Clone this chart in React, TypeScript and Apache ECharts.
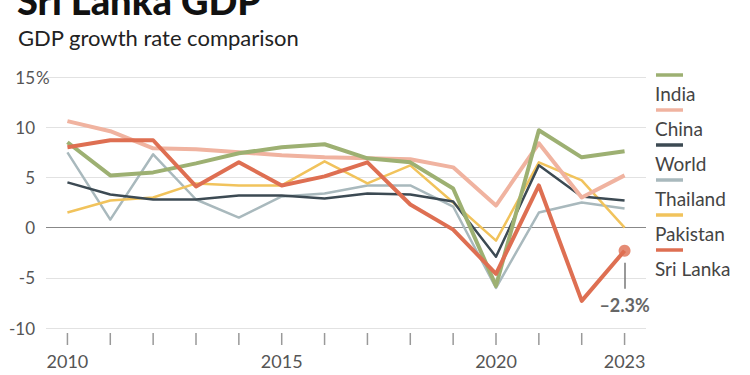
import React, { useEffect, useRef } from "react";
import * as echarts from "echarts";

const years = ["2010","2011","2012","2013","2014","2015","2016","2017","2018","2019","2020","2021","2022","2023"];
const india = [8.5, 5.2, 5.5, 6.4, 7.4, 8.0, 8.3, 6.9, 6.5, 3.9, -5.8, 9.7, 7.0, 7.6];
const china = [10.6, 9.6, 7.9, 7.8, 7.5, 7.2, 7.0, 6.9, 6.8, 6.0, 2.2, 8.4, 3.0, 5.2];
const world = [4.5, 3.3, 2.8, 2.8, 3.2, 3.2, 2.9, 3.4, 3.3, 2.6, -2.9, 6.2, 3.1, 2.7];
const thailand = [7.5, 0.8, 7.3, 2.8, 1.0, 3.1, 3.4, 4.2, 4.2, 2.1, -6.0, 1.5, 2.5, 1.9];
const pakistan = [1.5, 2.7, 3.0, 4.4, 4.2, 4.2, 6.6, 4.4, 6.2, 2.5, -1.3, 6.5, 4.7, 0.0];
const sriLanka = [8.0, 8.7, 8.7, 4.1, 6.5, 4.2, 5.1, 6.5, 2.3, -0.2, -4.6, 4.2, -7.3, -2.3];

const legendNames = ["India", "China", "World", "Thailand", "Pakistan", "Sri Lanka"];
const xLabelYears = ["2010", "2015", "2020", "2023"];
const yTicks = [-10, -5, 0, 5, 10, 15];

const FONT = "Lato, 'Source Sans Pro', 'Noto Sans', sans-serif";

const seriesDefs = [
  { name: "Thailand", data: thailand, color: "#a9b9bd", width: 2.5 },
  { name: "Pakistan", data: pakistan, color: "#f1c35c", width: 2.5 },
  { name: "World", data: world, color: "#3c4a53", width: 2.5 },
  { name: "China", data: china, color: "#f0b3a0", width: 4 },
  { name: "India", data: india, color: "#9db072", width: 4 },
  { name: "Sri Lanka", data: sriLanka, color: "#de6f52", width: 4 },
];

export default function App() {
  const ref = useRef<HTMLDivElement>(null);
  useEffect(() => {
    if (!ref.current) return;
    const chart = echarts.init(ref.current, null, { renderer: "svg" });
    const colorOf = (n: string) => seriesDefs.find((s) => s.name === n)!.color;
    const last = sriLanka[sriLanka.length - 1];
    const lastYear = years[years.length - 1];
    const annText = `${last < 0 ? "\u2013" : ""}${Math.abs(last).toFixed(1)}%`;
    const yMin = yTicks[0];

    const legendGraphics: any[] = [];
    legendNames.forEach((n, i) => {
      legendGraphics.push({
        type: "line",
        shape: { x1: 656, y1: 75 + 35 * i, x2: 683, y2: 75 + 35 * i },
        style: { stroke: colorOf(n), lineWidth: 3.5 },
      });
      legendGraphics.push({
        type: "text",
        x: 655,
        y: 93 + 35 * i,
        style: { text: n, font: `19px ${FONT}`, fill: "#444", verticalAlign: "middle", textAlign: "left" },
      });
    });

    const baseGraphics: any[] = [
      {
        type: "text",
        x: 17,
        y: 0,
        style: { text: "Sri Lanka GDP", font: `900 38px ${FONT}`, fill: "#111", verticalAlign: "middle" },
      },
      {
        type: "text",
        x: 18,
        y: 37,
        style: { text: "GDP growth rate comparison", font: `22px ${FONT}`, fill: "#222", verticalAlign: "middle" },
      },
      {
        type: "text",
        x: 36,
        y: 77,
        style: { text: "%", font: `17px ${FONT}`, fill: "#555", verticalAlign: "middle" },
      },
      ...legendGraphics,
    ];

    chart.setOption({
      animation: false,
      backgroundColor: "#fff",
      grid: { left: 46, right: 104, top: 77, bottom: 47, containLabel: false },
      xAxis: {
        type: "category",
        data: years,
        boundaryGap: true,
        position: "bottom",
        axisLine: { show: false, onZero: false },
        axisTick: { show: false },
        axisLabel: {
          interval: (i: number, v: string) => xLabelYears.includes(v),
          margin: 24,
          fontSize: 18,
          color: "#555",
          fontFamily: FONT,
        },
        splitLine: { show: false },
      },
      yAxis: {
        type: "value",
        min: yTicks[0],
        max: yTicks[yTicks.length - 1],
        interval: 5,
        axisLine: { show: false },
        axisTick: { show: false },
        axisLabel: { margin: 11, fontSize: 17, color: "#555", fontFamily: FONT },
        splitLine: {
          show: true,
          lineStyle: {
            color: yTicks.map((t) => (t === 0 ? "#888" : "#e2e2e2")),
            width: 1.2,
          },
        },
      },
      graphic: baseGraphics,
      series: [
        ...seriesDefs.map((s) => ({
          type: "line",
          name: s.name,
          data: s.data,
          symbol: "none",
          lineStyle: { color: s.color, width: s.width, join: "round" },
          itemStyle: { color: s.color },
          silent: true,
        })),
        {
          type: "scatter",
          name: "Sri Lanka end",
          data: [[lastYear, last]],
          symbol: "circle",
          symbolSize: 12,
          itemStyle: { color: colorOf("Sri Lanka") },
          z: 5,
          silent: true,
          markLine: {
            silent: true,
            symbol: ["none", "none"],
            lineStyle: { color: "#777", width: 1.5, type: "solid" },
            label: {
              show: true,
              position: "end",
              distance: 7,
              formatter: annText,
              fontSize: 18,
              fontWeight: 700,
              color: "#666",
              fontFamily: FONT,
            },
            data: [[{ coord: [lastYear, last - 1.2] }, { coord: [lastYear, last - 3.8] }]],
          },
        },
      ],
    });

    const tickGraphics = years.map((y, i) => {
      const p = chart.convertToPixel({ xAxisIndex: 0, yAxisIndex: 0 }, [i, yMin]) as number[];
      return {
        type: "line",
        z: 100,
        shape: { x1: p[0], y1: p[1] + 5, x2: p[0], y2: p[1] + 17 },
        style: { stroke: "#999", lineWidth: 1.5 },
      };
    });
    chart.setOption({ graphic: [...baseGraphics, ...tickGraphics] }, { replaceMerge: ["graphic"] });

    return () => chart.dispose();
  }, []);
  return <div ref={ref} style={{ width: 750, height: 375, position: "absolute", left: 0, top: 0 }} />;
}
